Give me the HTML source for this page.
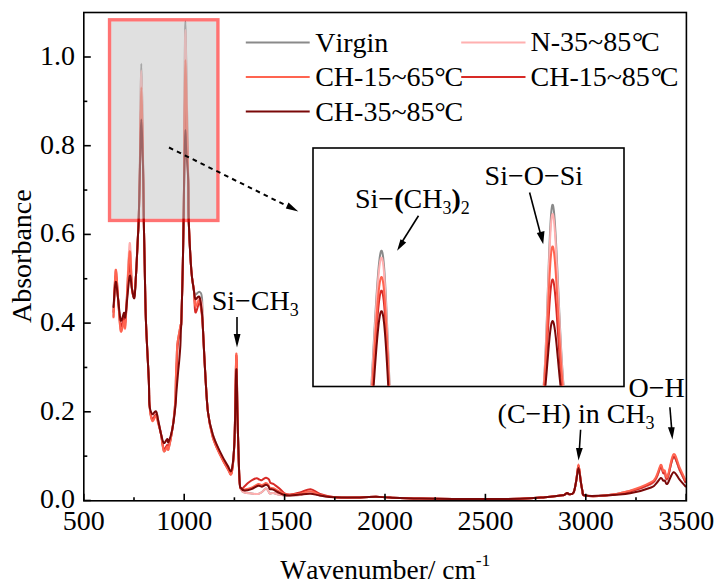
<!DOCTYPE html>
<html><head><meta charset="utf-8"><style>
html,body{margin:0;padding:0;background:#fff;}
svg{display:block;}
text{font-family:"Liberation Serif",serif;font-size:28px;fill:#000;font-kerning:none;}
</style></head><body>
<svg width="721" height="588" viewBox="0 0 721 588">
<rect width="721" height="588" fill="#fff"/>
<g fill="none" stroke-width="2" stroke-linejoin="round" stroke-linecap="round">
<path d="M113.50,316.00 C113.87,308.67 114.92,274.67 115.70,272.00 C116.48,269.33 117.37,290.50 118.20,300.00 C119.03,309.50 119.73,325.83 120.70,329.00 C121.67,332.17 123.20,320.17 124.00,319.00 C124.80,317.83 124.57,333.50 125.50,322.00 C126.43,310.50 128.52,255.50 129.60,250.00 C130.68,244.50 131.20,281.33 132.00,289.00 C132.80,296.67 133.73,298.33 134.40,296.00 C135.07,293.67 135.60,281.00 136.00,275.00 C136.40,269.00 136.47,266.67 136.80,260.00 C137.13,253.33 137.68,241.67 138.00,235.00 C138.32,228.33 138.42,229.17 138.70,220.00 C138.98,210.83 139.38,200.00 139.70,180.00 C140.02,160.00 140.33,119.37 140.60,100.00 C140.87,80.63 141.03,63.80 141.30,63.80 C141.57,63.80 141.87,80.63 142.20,100.00 C142.53,119.37 143.03,160.00 143.30,180.00 C143.57,200.00 143.58,206.67 143.80,220.00 C144.02,233.33 144.25,243.33 144.60,260.00 C144.95,276.67 145.20,300.00 145.90,320.00 C146.60,340.00 148.20,365.83 148.80,380.00 C149.40,394.17 148.93,398.33 149.50,405.00 C150.07,411.67 151.12,418.92 152.20,420.00 C153.28,421.08 154.98,411.33 156.00,411.50 C157.02,411.67 157.47,417.25 158.30,421.00 C159.13,424.75 160.08,429.00 161.00,434.00 C161.92,439.00 162.77,449.00 163.80,451.00 C164.83,453.00 166.42,446.33 167.20,446.00 C167.98,445.67 167.60,452.07 168.50,449.00 C169.40,445.93 171.52,434.93 172.60,427.60 C173.68,420.27 174.50,411.27 175.00,405.00 C175.50,398.73 175.42,395.67 175.60,390.00 C175.78,384.33 175.93,375.83 176.10,371.00 C176.27,366.17 176.40,365.33 176.60,361.00 C176.80,356.67 176.87,349.67 177.30,345.00 C177.73,340.33 178.65,336.33 179.20,333.00 C179.75,329.67 180.23,327.17 180.60,325.00 C180.97,322.83 181.05,329.17 181.40,320.00 C181.75,310.83 182.33,286.67 182.70,270.00 C183.07,253.33 183.37,235.00 183.60,220.00 C183.83,205.00 183.90,206.67 184.10,180.00 C184.30,153.33 184.58,86.42 184.80,60.00 C185.02,33.58 185.17,21.50 185.40,21.50 C185.63,21.50 185.73,33.58 186.20,60.00 C186.67,86.42 187.78,153.33 188.20,180.00 C188.62,206.67 188.18,205.00 188.70,220.00 C189.22,235.00 190.43,258.27 191.30,270.00 C192.17,281.73 193.22,286.32 193.90,290.40 C194.58,294.48 194.47,294.25 195.40,294.50 C196.33,294.75 198.40,291.32 199.50,291.90 C200.60,292.48 201.42,291.65 202.00,298.00 C202.58,304.35 202.45,317.27 203.00,330.00 C203.55,342.73 204.47,360.65 205.30,374.40 C206.13,388.15 206.77,402.52 208.00,412.50 C209.23,422.48 210.78,427.72 212.70,434.30 C214.62,440.88 217.02,446.55 219.50,452.00 C221.98,457.45 225.57,463.83 227.60,467.00 C229.63,470.17 230.55,475.50 231.70,471.00 C232.85,466.50 233.73,458.50 234.50,440.00 C235.27,421.50 235.78,363.33 236.30,360.00 C236.82,356.67 237.07,400.00 237.60,420.00 C238.13,440.00 238.85,468.33 239.50,480.00 C240.15,491.67 240.65,487.92 241.50,490.00 C242.35,492.08 242.95,491.92 244.60,492.50 C246.25,493.08 249.13,493.25 251.40,493.50 C253.67,493.75 256.43,494.25 258.20,494.00 C259.97,493.75 260.72,492.90 262.00,492.00 C263.28,491.10 264.85,488.77 265.90,488.60 C266.95,488.43 267.65,490.18 268.30,491.00 C268.95,491.82 268.98,493.17 269.80,493.50 C270.62,493.83 271.75,492.83 273.20,493.00 C274.65,493.17 276.63,494.10 278.50,494.50 C280.37,494.90 282.48,495.23 284.40,495.40 C286.32,495.57 287.40,495.57 290.00,495.50 C292.60,495.43 296.57,495.50 300.00,495.00 C303.43,494.50 307.27,492.42 310.60,492.50 C313.93,492.58 315.93,494.70 320.00,495.50 C324.07,496.30 328.33,496.97 335.00,497.30 C341.67,497.63 353.17,497.58 360.00,497.50 C366.83,497.42 371.00,496.78 376.00,496.80 C381.00,496.82 382.67,497.32 390.00,497.60 C397.33,497.88 406.67,498.27 420.00,498.50 C433.33,498.73 453.33,498.95 470.00,499.00 C486.67,499.05 507.50,499.10 520.00,498.80 C532.50,498.50 538.33,497.75 545.00,497.20 C551.67,496.65 556.87,495.85 560.00,495.50 C563.13,495.15 562.63,495.53 563.80,495.10 C564.97,494.67 566.10,493.05 567.00,492.90 C567.90,492.75 568.10,494.27 569.20,494.20 C570.30,494.13 572.43,494.70 573.60,492.50 C574.77,490.30 575.38,485.50 576.20,481.00 C577.02,476.50 577.75,465.50 578.50,465.50 C579.25,465.50 580.05,476.80 580.70,481.00 C581.35,485.20 581.67,488.27 582.40,490.70 C583.13,493.13 581.33,494.78 585.10,495.60 C588.87,496.42 597.52,496.37 605.00,495.60 C612.48,494.83 622.32,492.93 630.00,491.00 C637.68,489.07 646.70,486.17 651.10,484.00 C655.50,481.83 654.78,480.83 656.40,478.00 C658.02,475.17 659.67,467.83 660.80,467.00 C661.93,466.17 662.53,471.87 663.20,473.00 C663.87,474.13 664.10,472.80 664.80,473.80 C665.50,474.80 665.95,481.80 667.40,479.00 C668.85,476.20 671.47,458.50 673.50,457.00 C675.53,455.50 677.62,465.83 679.60,470.00 C681.58,474.17 684.43,480.00 685.40,482.00" stroke="#8a8a8a"/>
<path d="M113.50,317.60 C113.87,309.65 114.92,272.83 115.70,269.90 C116.48,266.97 117.37,289.82 118.20,300.00 C119.03,310.18 119.73,327.50 120.70,331.00 C121.67,334.50 123.20,322.10 124.00,321.00 C124.80,319.90 124.57,337.32 125.50,324.40 C126.43,311.48 128.52,249.40 129.60,243.50 C130.68,237.60 131.20,280.58 132.00,289.00 C132.80,297.42 133.73,296.33 134.40,294.00 C135.07,291.67 135.60,280.67 136.00,275.00 C136.40,269.33 136.47,266.67 136.80,260.00 C137.13,253.33 137.68,241.67 138.00,235.00 C138.32,228.33 138.42,229.17 138.70,220.00 C138.98,210.83 139.38,200.00 139.70,180.00 C140.02,160.00 140.33,118.23 140.60,100.00 C140.87,81.77 141.03,70.60 141.30,70.60 C141.57,70.60 141.87,81.77 142.20,100.00 C142.53,118.23 143.03,160.00 143.30,180.00 C143.57,200.00 143.58,206.67 143.80,220.00 C144.02,233.33 144.25,243.33 144.60,260.00 C144.95,276.67 145.20,300.00 145.90,320.00 C146.60,340.00 148.20,365.83 148.80,380.00 C149.40,394.17 148.93,398.33 149.50,405.00 C150.07,411.67 151.12,418.92 152.20,420.00 C153.28,421.08 154.98,411.33 156.00,411.50 C157.02,411.67 157.47,417.25 158.30,421.00 C159.13,424.75 160.08,429.00 161.00,434.00 C161.92,439.00 162.77,449.00 163.80,451.00 C164.83,453.00 166.42,446.33 167.20,446.00 C167.98,445.67 167.60,452.07 168.50,449.00 C169.40,445.93 171.52,434.93 172.60,427.60 C173.68,420.27 174.50,411.27 175.00,405.00 C175.50,398.73 175.42,395.67 175.60,390.00 C175.78,384.33 175.93,375.83 176.10,371.00 C176.27,366.17 176.40,365.33 176.60,361.00 C176.80,356.67 176.87,349.67 177.30,345.00 C177.73,340.33 178.65,336.33 179.20,333.00 C179.75,329.67 180.23,327.17 180.60,325.00 C180.97,322.83 181.05,329.17 181.40,320.00 C181.75,310.83 182.33,286.67 182.70,270.00 C183.07,253.33 183.37,235.00 183.60,220.00 C183.83,205.00 183.90,205.83 184.10,180.00 C184.30,154.17 184.58,90.00 184.80,65.00 C185.02,40.00 185.17,30.00 185.40,30.00 C185.63,30.00 185.73,40.00 186.20,65.00 C186.67,90.00 187.78,154.17 188.20,180.00 C188.62,205.83 188.18,205.00 188.70,220.00 C189.22,235.00 190.43,258.27 191.30,270.00 C192.17,281.73 193.22,284.90 193.90,290.40 C194.58,295.90 194.47,301.73 195.40,303.00 C196.33,304.27 198.40,297.67 199.50,298.00 C200.60,298.33 201.42,299.67 202.00,305.00 C202.58,310.33 202.45,318.43 203.00,330.00 C203.55,341.57 204.47,360.65 205.30,374.40 C206.13,388.15 206.77,402.52 208.00,412.50 C209.23,422.48 210.78,427.72 212.70,434.30 C214.62,440.88 217.02,446.55 219.50,452.00 C221.98,457.45 225.57,463.83 227.60,467.00 C229.63,470.17 230.55,475.50 231.70,471.00 C232.85,466.50 233.73,459.17 234.50,440.00 C235.27,420.83 235.78,359.33 236.30,356.00 C236.82,352.67 237.07,399.33 237.60,420.00 C238.13,440.67 238.85,468.33 239.50,480.00 C240.15,491.67 240.65,487.92 241.50,490.00 C242.35,492.08 242.95,491.92 244.60,492.50 C246.25,493.08 249.13,493.25 251.40,493.50 C253.67,493.75 256.43,494.25 258.20,494.00 C259.97,493.75 260.72,492.90 262.00,492.00 C263.28,491.10 264.85,488.77 265.90,488.60 C266.95,488.43 267.65,490.18 268.30,491.00 C268.95,491.82 268.98,493.17 269.80,493.50 C270.62,493.83 271.75,492.83 273.20,493.00 C274.65,493.17 276.63,494.10 278.50,494.50 C280.37,494.90 282.48,495.23 284.40,495.40 C286.32,495.57 287.40,495.57 290.00,495.50 C292.60,495.43 296.57,495.50 300.00,495.00 C303.43,494.50 307.27,492.42 310.60,492.50 C313.93,492.58 315.93,494.70 320.00,495.50 C324.07,496.30 328.33,496.97 335.00,497.30 C341.67,497.63 353.17,497.58 360.00,497.50 C366.83,497.42 371.00,496.78 376.00,496.80 C381.00,496.82 382.67,497.32 390.00,497.60 C397.33,497.88 406.67,498.27 420.00,498.50 C433.33,498.73 453.33,498.95 470.00,499.00 C486.67,499.05 507.50,499.10 520.00,498.80 C532.50,498.50 538.33,497.75 545.00,497.20 C551.67,496.65 556.87,495.85 560.00,495.50 C563.13,495.15 562.63,495.53 563.80,495.10 C564.97,494.67 566.10,493.05 567.00,492.90 C567.90,492.75 568.10,494.27 569.20,494.20 C570.30,494.13 572.43,494.70 573.60,492.50 C574.77,490.30 575.38,485.67 576.20,481.00 C577.02,476.33 577.75,464.50 578.50,464.50 C579.25,464.50 580.05,476.63 580.70,481.00 C581.35,485.37 581.67,488.27 582.40,490.70 C583.13,493.13 581.33,494.78 585.10,495.60 C588.87,496.42 597.52,496.37 605.00,495.60 C612.48,494.83 622.32,492.93 630.00,491.00 C637.68,489.07 646.70,486.17 651.10,484.00 C655.50,481.83 654.78,481.00 656.40,478.00 C658.02,475.00 659.67,466.83 660.80,466.00 C661.93,465.17 662.53,471.70 663.20,473.00 C663.87,474.30 664.10,472.80 664.80,473.80 C665.50,474.80 665.95,482.13 667.40,479.00 C668.85,475.87 671.47,456.50 673.50,455.00 C675.53,453.50 677.62,465.67 679.60,470.00 C681.58,474.33 684.43,479.17 685.40,481.00" stroke="#ffb0b0"/>
<path d="M113.50,312.00 C113.87,306.00 114.92,278.00 115.70,276.00 C116.48,274.00 117.37,291.67 118.20,300.00 C119.03,308.33 119.73,323.17 120.70,326.00 C121.67,328.83 123.20,318.00 124.00,317.00 C124.80,316.00 124.57,328.83 125.50,320.00 C126.43,311.17 128.52,269.17 129.60,264.00 C130.68,258.83 131.20,283.50 132.00,289.00 C132.80,294.50 133.73,299.33 134.40,297.00 C135.07,294.67 135.60,281.17 136.00,275.00 C136.40,268.83 136.47,266.67 136.80,260.00 C137.13,253.33 137.68,241.67 138.00,235.00 C138.32,228.33 138.42,229.17 138.70,220.00 C138.98,210.83 139.38,195.83 139.70,180.00 C140.02,164.17 140.33,138.33 140.60,125.00 C140.87,111.67 141.03,100.00 141.30,100.00 C141.57,100.00 141.87,111.67 142.20,125.00 C142.53,138.33 143.03,164.17 143.30,180.00 C143.57,195.83 143.58,206.67 143.80,220.00 C144.02,233.33 144.25,243.33 144.60,260.00 C144.95,276.67 145.20,300.00 145.90,320.00 C146.60,340.00 148.20,365.83 148.80,380.00 C149.40,394.17 148.93,398.50 149.50,405.00 C150.07,411.50 151.12,417.33 152.20,419.00 C153.28,420.67 154.98,414.33 156.00,415.00 C157.02,415.67 157.47,419.83 158.30,423.00 C159.13,426.17 160.08,429.67 161.00,434.00 C161.92,438.33 162.77,447.17 163.80,449.00 C164.83,450.83 166.42,445.33 167.20,445.00 C167.98,444.67 167.60,449.90 168.50,447.00 C169.40,444.10 171.45,434.60 172.60,427.60 C173.75,420.60 174.83,411.27 175.40,405.00 C175.97,398.73 175.82,395.67 176.00,390.00 C176.18,384.33 176.33,375.83 176.50,371.00 C176.67,366.17 176.80,365.33 177.00,361.00 C177.20,356.67 177.27,349.67 177.70,345.00 C178.13,340.33 179.05,336.33 179.60,333.00 C180.15,329.67 180.70,327.17 181.00,325.00 C181.30,322.83 181.12,329.17 181.40,320.00 C181.68,310.83 182.33,286.67 182.70,270.00 C183.07,253.33 183.37,235.00 183.60,220.00 C183.83,205.00 183.90,198.33 184.10,180.00 C184.30,161.67 184.58,125.00 184.80,110.00 C185.02,95.00 185.17,90.00 185.40,90.00 C185.63,90.00 185.73,95.00 186.20,110.00 C186.67,125.00 187.78,161.67 188.20,180.00 C188.62,198.33 188.18,205.00 188.70,220.00 C189.22,235.00 190.43,258.27 191.30,270.00 C192.17,281.73 193.22,283.35 193.90,290.40 C194.58,297.45 194.47,310.25 195.40,312.30 C196.33,314.35 198.40,302.08 199.50,302.70 C200.60,303.32 201.42,311.45 202.00,316.00 C202.58,320.55 202.45,320.27 203.00,330.00 C203.55,339.73 204.47,360.65 205.30,374.40 C206.13,388.15 206.77,402.07 208.00,412.50 C209.23,422.93 210.78,430.15 212.70,437.00 C214.62,443.85 217.02,448.33 219.50,453.60 C221.98,458.87 225.57,465.42 227.60,468.60 C229.63,471.78 230.55,477.47 231.70,472.70 C232.85,467.93 233.73,459.53 234.50,440.00 C235.27,420.47 235.78,358.83 236.30,355.50 C236.82,352.17 237.07,399.25 237.60,420.00 C238.13,440.75 238.80,468.60 239.50,480.00 C240.20,491.40 240.95,487.35 241.80,488.40 C242.65,489.45 243.52,487.23 244.60,486.30 C245.68,485.37 246.98,483.88 248.30,482.80 C249.62,481.72 251.10,480.55 252.50,479.80 C253.90,479.05 255.53,478.33 256.70,478.30 C257.87,478.27 258.67,479.27 259.50,479.60 C260.33,479.93 260.95,480.47 261.70,480.30 C262.45,480.13 263.27,479.02 264.00,478.60 C264.73,478.18 265.28,477.67 266.10,477.80 C266.92,477.93 268.20,478.57 268.90,479.40 C269.60,480.23 269.57,482.05 270.30,482.80 C271.03,483.55 272.42,483.43 273.30,483.90 C274.18,484.37 274.48,484.77 275.60,485.60 C276.72,486.43 278.53,487.62 280.00,488.90 C281.47,490.18 282.73,492.37 284.40,493.30 C286.07,494.23 287.40,494.63 290.00,494.50 C292.60,494.37 296.57,493.38 300.00,492.50 C303.43,491.62 307.27,488.95 310.60,489.20 C313.93,489.45 315.93,492.65 320.00,494.00 C324.07,495.35 328.33,496.72 335.00,497.30 C341.67,497.88 353.17,497.58 360.00,497.50 C366.83,497.42 371.00,496.78 376.00,496.80 C381.00,496.82 382.67,497.32 390.00,497.60 C397.33,497.88 406.67,498.27 420.00,498.50 C433.33,498.73 453.33,498.95 470.00,499.00 C486.67,499.05 507.50,499.10 520.00,498.80 C532.50,498.50 538.33,497.75 545.00,497.20 C551.67,496.65 556.87,495.85 560.00,495.50 C563.13,495.15 562.63,495.53 563.80,495.10 C564.97,494.67 566.10,493.05 567.00,492.90 C567.90,492.75 568.10,494.27 569.20,494.20 C570.30,494.13 572.43,494.70 573.60,492.50 C574.77,490.30 575.38,485.50 576.20,481.00 C577.02,476.50 577.75,465.50 578.50,465.50 C579.25,465.50 580.05,476.80 580.70,481.00 C581.35,485.20 581.67,488.27 582.40,490.70 C583.13,493.13 581.33,494.78 585.10,495.60 C588.87,496.42 597.52,496.28 605.00,495.60 C612.48,494.92 622.32,493.52 630.00,491.50 C637.68,489.48 646.70,485.83 651.10,483.50 C655.50,481.17 654.78,480.25 656.40,477.50 C658.02,474.75 659.67,467.75 660.80,467.00 C661.93,466.25 662.53,472.08 663.20,473.00 C663.87,473.92 664.10,471.58 664.80,472.50 C665.50,473.42 665.95,481.08 667.40,478.50 C668.85,475.92 671.47,458.50 673.50,457.00 C675.53,455.50 677.62,465.33 679.60,469.50 C681.58,473.67 684.43,479.92 685.40,482.00" stroke="#d82a26"/>
<path d="M113.50,317.00 C113.87,309.17 114.92,272.83 115.70,270.00 C116.48,267.17 117.37,289.83 118.20,300.00 C119.03,310.17 119.73,327.50 120.70,331.00 C121.67,334.50 123.20,322.17 124.00,321.00 C124.80,319.83 124.57,335.50 125.50,324.00 C126.43,312.50 128.52,257.83 129.60,252.00 C130.68,246.17 131.20,281.83 132.00,289.00 C132.80,296.17 133.73,297.33 134.40,295.00 C135.07,292.67 135.60,280.83 136.00,275.00 C136.40,269.17 136.47,266.67 136.80,260.00 C137.13,253.33 137.68,241.67 138.00,235.00 C138.32,228.33 138.42,229.17 138.70,220.00 C138.98,210.83 139.38,196.67 139.70,180.00 C140.02,163.33 140.33,135.40 140.60,120.00 C140.87,104.60 141.03,87.60 141.30,87.60 C141.57,87.60 141.87,104.60 142.20,120.00 C142.53,135.40 143.03,163.33 143.30,180.00 C143.57,196.67 143.58,206.67 143.80,220.00 C144.02,233.33 144.25,243.33 144.60,260.00 C144.95,276.67 145.20,300.00 145.90,320.00 C146.60,340.00 148.20,365.83 148.80,380.00 C149.40,394.17 148.93,398.17 149.50,405.00 C150.07,411.83 151.12,419.17 152.20,421.00 C153.28,422.83 154.98,415.50 156.00,416.00 C157.02,416.50 157.47,421.00 158.30,424.00 C159.13,427.00 160.08,429.50 161.00,434.00 C161.92,438.50 162.77,448.90 163.80,451.00 C164.83,453.10 166.42,446.93 167.20,446.60 C167.98,446.27 167.60,452.17 168.50,449.00 C169.40,445.83 171.52,434.93 172.60,427.60 C173.68,420.27 174.50,411.27 175.00,405.00 C175.50,398.73 175.42,395.67 175.60,390.00 C175.78,384.33 175.93,375.83 176.10,371.00 C176.27,366.17 176.40,365.33 176.60,361.00 C176.80,356.67 176.87,349.67 177.30,345.00 C177.73,340.33 178.65,336.33 179.20,333.00 C179.75,329.67 180.23,327.17 180.60,325.00 C180.97,322.83 181.05,329.17 181.40,320.00 C181.75,310.83 182.33,286.67 182.70,270.00 C183.07,253.33 183.37,235.00 183.60,220.00 C183.83,205.00 183.90,201.67 184.10,180.00 C184.30,158.33 184.58,110.00 184.80,90.00 C185.02,70.00 185.17,60.00 185.40,60.00 C185.63,60.00 185.73,70.00 186.20,90.00 C186.67,110.00 187.78,158.33 188.20,180.00 C188.62,201.67 188.18,205.00 188.70,220.00 C189.22,235.00 190.43,258.27 191.30,270.00 C192.17,281.73 193.22,284.40 193.90,290.40 C194.58,296.40 194.47,304.32 195.40,306.00 C196.33,307.68 198.40,299.17 199.50,300.50 C200.60,301.83 201.42,309.08 202.00,314.00 C202.58,318.92 202.45,319.93 203.00,330.00 C203.55,340.07 204.47,360.65 205.30,374.40 C206.13,388.15 206.77,402.07 208.00,412.50 C209.23,422.93 210.78,430.15 212.70,437.00 C214.62,443.85 217.02,448.33 219.50,453.60 C221.98,458.87 225.57,465.42 227.60,468.60 C229.63,471.78 230.55,477.47 231.70,472.70 C232.85,467.93 233.73,459.85 234.50,440.00 C235.27,420.15 235.78,356.93 236.30,353.60 C236.82,350.27 237.07,398.93 237.60,420.00 C238.13,441.07 238.85,468.50 239.50,480.00 C240.15,491.50 240.65,487.43 241.50,489.00 C242.35,490.57 242.95,489.60 244.60,489.40 C246.25,489.20 249.13,488.70 251.40,487.80 C253.67,486.90 256.43,484.47 258.20,484.00 C259.97,483.53 260.72,485.15 262.00,485.00 C263.28,484.85 264.85,483.17 265.90,483.10 C266.95,483.03 267.65,483.85 268.30,484.60 C268.95,485.35 268.98,487.00 269.80,487.60 C270.62,488.20 271.75,487.63 273.20,488.20 C274.65,488.77 276.63,490.03 278.50,491.00 C280.37,491.97 282.48,493.33 284.40,494.00 C286.32,494.67 287.40,495.03 290.00,495.00 C292.60,494.97 296.57,494.43 300.00,493.80 C303.43,493.17 307.27,491.00 310.60,491.20 C313.93,491.40 315.93,493.98 320.00,495.00 C324.07,496.02 328.33,496.88 335.00,497.30 C341.67,497.72 353.17,497.58 360.00,497.50 C366.83,497.42 371.00,496.78 376.00,496.80 C381.00,496.82 382.67,497.32 390.00,497.60 C397.33,497.88 406.67,498.27 420.00,498.50 C433.33,498.73 453.33,498.95 470.00,499.00 C486.67,499.05 507.50,499.10 520.00,498.80 C532.50,498.50 538.33,497.75 545.00,497.20 C551.67,496.65 556.87,495.85 560.00,495.50 C563.13,495.15 562.63,495.53 563.80,495.10 C564.97,494.67 566.10,493.05 567.00,492.90 C567.90,492.75 568.10,494.27 569.20,494.20 C570.30,494.13 572.43,494.70 573.60,492.50 C574.77,490.30 575.38,485.67 576.20,481.00 C577.02,476.33 577.75,464.50 578.50,464.50 C579.25,464.50 580.05,476.63 580.70,481.00 C581.35,485.37 581.67,488.27 582.40,490.70 C583.13,493.13 581.33,494.78 585.10,495.60 C588.87,496.42 597.52,496.43 605.00,495.60 C612.48,494.77 622.32,492.83 630.00,490.60 C637.68,488.37 646.70,484.65 651.10,482.20 C655.50,479.75 654.78,478.80 656.40,475.90 C658.02,473.00 659.67,465.60 660.80,464.80 C661.93,464.00 662.53,470.13 663.20,471.10 C663.87,472.07 664.10,469.63 664.80,470.60 C665.50,471.57 665.95,479.63 667.40,476.90 C668.85,474.17 671.47,455.78 673.50,454.20 C675.53,452.62 677.62,463.10 679.60,467.40 C681.58,471.70 684.43,477.90 685.40,480.00" stroke="#ff6450"/>
<path d="M113.50,307.00 C113.87,302.80 114.92,282.97 115.70,281.80 C116.48,280.63 117.37,293.55 118.20,300.00 C119.03,306.45 119.73,318.38 120.70,320.50 C121.67,322.62 123.20,313.50 124.00,312.70 C124.80,311.90 124.57,321.73 125.50,315.70 C126.43,309.67 128.52,280.95 129.60,276.50 C130.68,272.05 131.20,285.43 132.00,289.00 C132.80,292.57 133.73,300.23 134.40,297.90 C135.07,295.57 135.60,281.32 136.00,275.00 C136.40,268.68 136.47,266.67 136.80,260.00 C137.13,253.33 137.68,241.67 138.00,235.00 C138.32,228.33 138.42,229.17 138.70,220.00 C138.98,210.83 139.38,193.33 139.70,180.00 C140.02,166.67 140.33,150.08 140.60,140.00 C140.87,129.92 141.03,119.50 141.30,119.50 C141.57,119.50 141.87,129.92 142.20,140.00 C142.53,150.08 143.03,166.67 143.30,180.00 C143.57,193.33 143.58,206.67 143.80,220.00 C144.02,233.33 144.25,243.33 144.60,260.00 C144.95,276.67 145.20,300.00 145.90,320.00 C146.60,340.00 148.20,365.83 148.80,380.00 C149.40,394.17 148.93,399.33 149.50,405.00 C150.07,410.67 151.12,412.92 152.20,414.00 C153.28,415.08 154.98,410.33 156.00,411.50 C157.02,412.67 157.47,417.25 158.30,421.00 C159.13,424.75 160.08,430.33 161.00,434.00 C161.92,437.67 162.77,442.17 163.80,443.00 C164.83,443.83 166.42,439.17 167.20,439.00 C167.98,438.83 167.60,443.90 168.50,442.00 C169.40,440.10 171.47,433.43 172.60,427.60 C173.73,421.77 174.63,413.27 175.30,407.00 C175.97,400.73 176.12,396.00 176.60,390.00 C177.08,384.00 177.77,375.83 178.20,371.00 C178.63,366.17 178.83,365.33 179.20,361.00 C179.57,356.67 180.12,350.17 180.40,345.00 C180.68,339.83 180.73,334.17 180.90,330.00 C181.07,325.83 181.10,330.00 181.40,320.00 C181.70,310.00 182.33,286.67 182.70,270.00 C183.07,253.33 183.37,235.00 183.60,220.00 C183.83,205.00 183.90,191.67 184.10,180.00 C184.30,168.33 184.58,158.33 184.80,150.00 C185.02,141.67 185.17,130.00 185.40,130.00 C185.63,130.00 185.73,141.67 186.20,150.00 C186.67,158.33 187.78,168.33 188.20,180.00 C188.62,191.67 188.18,205.00 188.70,220.00 C189.22,235.00 190.43,258.27 191.30,270.00 C192.17,281.73 193.22,285.57 193.90,290.40 C194.58,295.23 194.47,297.90 195.40,299.00 C196.33,300.10 198.40,294.67 199.50,297.00 C200.60,299.33 201.42,307.50 202.00,313.00 C202.58,318.50 202.45,319.77 203.00,330.00 C203.55,340.23 204.47,360.65 205.30,374.40 C206.13,388.15 206.77,402.52 208.00,412.50 C209.23,422.48 210.78,427.95 212.70,434.30 C214.62,440.65 217.02,445.38 219.50,450.60 C221.98,455.82 225.57,462.42 227.60,465.60 C229.63,468.78 230.55,473.97 231.70,469.70 C232.85,465.43 233.73,456.72 234.50,440.00 C235.27,423.28 235.78,372.73 236.30,369.40 C236.82,366.07 237.07,401.57 237.60,420.00 C238.13,438.43 238.85,468.58 239.50,480.00 C240.15,491.42 240.65,486.73 241.50,488.50 C242.35,490.27 242.95,490.50 244.60,490.60 C246.25,490.70 249.13,489.92 251.40,489.10 C253.67,488.28 256.43,486.10 258.20,485.70 C259.97,485.30 260.72,486.85 262.00,486.70 C263.28,486.55 264.85,484.88 265.90,484.80 C266.95,484.72 267.65,485.48 268.30,486.20 C268.95,486.92 268.98,488.53 269.80,489.10 C270.62,489.67 271.75,489.03 273.20,489.60 C274.65,490.17 276.63,491.60 278.50,492.50 C280.37,493.40 282.48,494.50 284.40,495.00 C286.32,495.50 287.40,495.58 290.00,495.50 C292.60,495.42 296.57,494.78 300.00,494.50 C303.43,494.22 307.27,493.63 310.60,493.80 C313.93,493.97 315.93,494.92 320.00,495.50 C324.07,496.08 328.33,496.97 335.00,497.30 C341.67,497.63 353.17,497.58 360.00,497.50 C366.83,497.42 371.00,496.78 376.00,496.80 C381.00,496.82 382.67,497.32 390.00,497.60 C397.33,497.88 406.67,498.27 420.00,498.50 C433.33,498.73 453.33,498.95 470.00,499.00 C486.67,499.05 507.50,499.10 520.00,498.80 C532.50,498.50 538.33,497.75 545.00,497.20 C551.67,496.65 556.87,495.85 560.00,495.50 C563.13,495.15 562.63,495.53 563.80,495.10 C564.97,494.67 566.10,493.05 567.00,492.90 C567.90,492.75 568.10,494.27 569.20,494.20 C570.30,494.13 572.43,494.70 573.60,492.50 C574.77,490.30 575.38,485.07 576.20,481.00 C577.02,476.93 577.75,468.10 578.50,468.10 C579.25,468.10 580.05,477.23 580.70,481.00 C581.35,484.77 581.67,488.27 582.40,490.70 C583.13,493.13 581.33,494.78 585.10,495.60 C588.87,496.42 597.52,495.98 605.00,495.60 C612.48,495.22 622.32,494.65 630.00,493.30 C637.68,491.95 646.70,489.18 651.10,487.50 C655.50,485.82 654.78,484.78 656.40,483.20 C658.02,481.62 659.67,478.43 660.80,478.00 C661.93,477.57 662.53,480.17 663.20,480.60 C663.87,481.03 664.10,480.07 664.80,480.60 C665.50,481.13 665.95,485.20 667.40,483.80 C668.85,482.40 671.47,472.90 673.50,472.20 C675.53,471.50 677.62,477.23 679.60,479.60 C681.58,481.97 684.43,485.27 685.40,486.40" stroke="#7a0808"/>
</g>
<rect x="111.25" y="21.5" width="104.95" height="197.25" fill="rgba(193,193,193,0.5)"/>
<rect x="109.55" y="19.8" width="108.35" height="200.65" fill="none" stroke="rgba(255,0,0,0.55)" stroke-width="3.4"/>
<g stroke="#000" stroke-width="1.6">
<line x1="83.80" y1="500.8" x2="83.80" y2="493.80"/>
<line x1="134.00" y1="500.8" x2="134.00" y2="497.30"/>
<line x1="184.20" y1="500.8" x2="184.20" y2="493.80"/>
<line x1="234.40" y1="500.8" x2="234.40" y2="497.30"/>
<line x1="284.60" y1="500.8" x2="284.60" y2="493.80"/>
<line x1="334.80" y1="500.8" x2="334.80" y2="497.30"/>
<line x1="385.00" y1="500.8" x2="385.00" y2="493.80"/>
<line x1="435.20" y1="500.8" x2="435.20" y2="497.30"/>
<line x1="485.40" y1="500.8" x2="485.40" y2="493.80"/>
<line x1="535.60" y1="500.8" x2="535.60" y2="497.30"/>
<line x1="585.80" y1="500.8" x2="585.80" y2="493.80"/>
<line x1="636.00" y1="500.8" x2="636.00" y2="497.30"/>
<line x1="686.20" y1="500.8" x2="686.20" y2="493.80"/>
<line x1="83.8" y1="500.50" x2="90.80" y2="500.50"/>
<line x1="83.8" y1="456.15" x2="87.30" y2="456.15"/>
<line x1="83.8" y1="411.80" x2="90.80" y2="411.80"/>
<line x1="83.8" y1="367.45" x2="87.30" y2="367.45"/>
<line x1="83.8" y1="323.10" x2="90.80" y2="323.10"/>
<line x1="83.8" y1="278.75" x2="87.30" y2="278.75"/>
<line x1="83.8" y1="234.40" x2="90.80" y2="234.40"/>
<line x1="83.8" y1="190.05" x2="87.30" y2="190.05"/>
<line x1="83.8" y1="145.70" x2="90.80" y2="145.70"/>
<line x1="83.8" y1="101.35" x2="87.30" y2="101.35"/>
<line x1="83.8" y1="57.00" x2="90.80" y2="57.00"/>
</g>
<rect x="83.8" y="12.5" width="602.6" height="488.3" fill="none" stroke="#000" stroke-width="1.6"/>
<text x="83.80" y="530" text-anchor="middle">500</text>
<text x="184.20" y="530" text-anchor="middle">1000</text>
<text x="284.60" y="530" text-anchor="middle">1500</text>
<text x="385.00" y="530" text-anchor="middle">2000</text>
<text x="485.40" y="530" text-anchor="middle">2500</text>
<text x="585.80" y="530" text-anchor="middle">3000</text>
<text x="686.20" y="530" text-anchor="middle">3500</text>
<text x="75" y="508.30" text-anchor="end">0.0</text>
<text x="75" y="419.60" text-anchor="end">0.2</text>
<text x="75" y="330.90" text-anchor="end">0.4</text>
<text x="75" y="242.20" text-anchor="end">0.6</text>
<text x="75" y="153.50" text-anchor="end">0.8</text>
<text x="75" y="64.80" text-anchor="end">1.0</text>
<text transform="translate(31,323) rotate(-90)">Absorbance</text>
<text x="280.3" y="578.5" style="font-size:27.4px">Wavenumber/ cm<tspan style="font-size:17.5px" dy="-12.7">-1</tspan></text>
<!-- legend -->
<g stroke-width="2">
<line x1="245.8" y1="42.4" x2="309.7" y2="42.4" stroke="#8a8a8a"/>
<line x1="245.8" y1="77" x2="309.7" y2="77" stroke="#ff6450"/>
<line x1="245.8" y1="111.6" x2="309.7" y2="111.6" stroke="#7a0808"/>
<line x1="461.2" y1="42.4" x2="525.5" y2="42.4" stroke="#ffb0b0"/>
<line x1="461.2" y1="77" x2="525.5" y2="77" stroke="#d82a26"/>
</g>
<text x="315.2" y="51.5">Virgin</text>
<text x="315.2" y="86.1">CH-15~65°<tspan dx="-1.2">C</tspan></text>
<text x="315.2" y="121">CH-35~85°<tspan dx="-1.2">C</tspan></text>
<text x="530.5" y="51.2">N-35~85<tspan dx="0.8">°</tspan><tspan dx="-2.2">C</tspan></text>
<text x="530.5" y="85.8">CH-15~85<tspan dx="0.8">°</tspan><tspan dx="-2.2">C</tspan></text>
<!-- dashed arrow -->
<line x1="169" y1="147.5" x2="287.5" y2="206.2" stroke="#000" stroke-width="2" stroke-dasharray="4.6 4.2"/>
<path d="M298.3,211.6 L285.8,208.6 L288.5,202.6 Z" fill="#000"/>
<!-- inset -->
<rect x="313" y="148" width="311" height="238.5" fill="#fff" stroke="#000" stroke-width="1.6"/>
<clipPath id="ic"><rect x="313.8" y="148.8" width="309.4" height="237"/></clipPath>
<g fill="none" stroke-width="2" clip-path="url(#ic)">
<path d="M371.26,388.00 L371.79,378.76 L372.30,369.51 L372.81,360.32 L373.31,351.25 L373.81,342.36 L374.29,333.72 L374.76,325.37 L375.21,317.38 L375.66,309.78 L376.10,302.62 L376.52,295.91 L376.93,289.69 L377.32,283.97 L377.70,278.77 L378.07,274.07 L378.42,269.88 L378.76,266.20 L379.08,262.99 L379.38,260.24 L379.67,257.92 L379.95,256.01 L380.20,254.47 L380.44,253.27 L380.66,252.36 L380.87,251.70 L381.05,251.26 L381.21,250.99 L381.34,250.86 L381.44,250.81 L381.50,250.80 L381.56,250.81 L381.66,250.86 L381.79,250.99 L381.95,251.26 L382.12,251.70 L382.31,252.36 L382.52,253.27 L382.74,254.47 L382.98,256.01 L383.22,257.92 L383.48,260.24 L383.74,262.99 L384.02,266.20 L384.30,269.88 L384.59,274.07 L384.89,278.77 L385.19,283.97 L385.50,289.69 L385.81,295.91 L386.14,302.62 L386.46,309.78 L386.80,317.38 L387.14,325.37 L387.49,333.72 L387.84,342.36 L388.20,351.25 L388.56,360.32 L388.94,369.51 L389.32,378.76 L389.71,388.00" stroke="#8a8a8a"/>
<path d="M371.48,388.00 L371.99,379.10 L372.50,370.21 L373.00,361.40 L373.49,352.72 L373.97,344.23 L374.44,335.99 L374.90,328.05 L375.35,320.46 L375.78,313.25 L376.21,306.46 L376.62,300.12 L377.02,294.24 L377.40,288.84 L377.78,283.92 L378.14,279.50 L378.48,275.55 L378.81,272.08 L379.12,269.06 L379.42,266.47 L379.71,264.30 L379.98,262.50 L380.23,261.05 L380.46,259.92 L380.68,259.06 L380.88,258.45 L381.06,258.03 L381.21,257.78 L381.34,257.65 L381.44,257.61 L381.50,257.60 L381.56,257.61 L381.66,257.65 L381.79,257.78 L381.94,258.03 L382.11,258.45 L382.30,259.06 L382.50,259.92 L382.72,261.05 L382.95,262.50 L383.19,264.30 L383.45,266.47 L383.71,269.06 L383.98,272.08 L384.25,275.55 L384.54,279.50 L384.83,283.92 L385.13,288.84 L385.44,294.24 L385.75,300.12 L386.07,306.46 L386.39,313.25 L386.72,320.46 L387.06,328.05 L387.40,335.99 L387.75,344.23 L388.10,352.72 L388.47,361.40 L388.83,370.21 L389.21,379.10 L389.59,388.00" stroke="#ffb0b0"/>
<path d="M372.64,388.00 L373.10,380.87 L373.55,373.84 L373.99,366.96 L374.42,360.26 L374.84,353.78 L375.26,347.54 L375.66,341.59 L376.06,335.95 L376.44,330.62 L376.81,325.65 L377.18,321.02 L377.53,316.76 L377.87,312.87 L378.19,309.35 L378.51,306.18 L378.81,303.37 L379.10,300.91 L379.38,298.77 L379.65,296.94 L379.90,295.41 L380.14,294.14 L380.36,293.12 L380.57,292.33 L380.76,291.73 L380.94,291.29 L381.10,291.00 L381.24,290.83 L381.36,290.74 L381.45,290.70 L381.50,290.70 L381.55,290.70 L381.64,290.74 L381.76,290.83 L381.89,291.00 L382.05,291.29 L382.22,291.73 L382.40,292.33 L382.60,293.12 L382.81,294.14 L383.03,295.41 L383.26,296.94 L383.50,298.77 L383.74,300.91 L384.00,303.37 L384.26,306.18 L384.53,309.35 L384.81,312.87 L385.09,316.76 L385.38,321.02 L385.67,325.65 L385.97,330.62 L386.27,335.95 L386.58,341.59 L386.90,347.54 L387.22,353.78 L387.55,360.26 L387.88,366.96 L388.22,373.84 L388.56,380.87 L388.91,388.00" stroke="#d82a26"/>
<path d="M372.13,388.00 L372.61,380.11 L373.09,372.29 L373.56,364.59 L374.01,357.05 L374.46,349.73 L374.90,342.66 L375.33,335.88 L375.75,329.43 L376.15,323.33 L376.55,317.61 L376.93,312.28 L377.30,307.36 L377.66,302.85 L378.01,298.76 L378.34,295.08 L378.67,291.81 L378.97,288.93 L379.27,286.44 L379.55,284.30 L379.81,282.51 L380.07,281.03 L380.30,279.84 L380.52,278.90 L380.73,278.20 L380.91,277.70 L381.08,277.36 L381.23,277.15 L381.35,277.04 L381.45,277.01 L381.50,277.00 L381.55,277.01 L381.65,277.04 L381.77,277.15 L381.91,277.36 L382.08,277.70 L382.26,278.20 L382.45,278.90 L382.66,279.84 L382.87,281.03 L383.10,282.51 L383.34,284.30 L383.59,286.44 L383.85,288.93 L384.11,291.81 L384.39,295.08 L384.67,298.76 L384.95,302.85 L385.25,307.36 L385.55,312.28 L385.85,317.61 L386.16,323.33 L386.48,329.43 L386.80,335.88 L387.13,342.66 L387.46,349.73 L387.80,357.05 L388.15,364.59 L388.50,372.29 L388.86,380.11 L389.22,388.00" stroke="#ff6450"/>
<path d="M373.51,388.00 L373.92,382.09 L374.33,376.33 L374.72,370.72 L375.11,365.31 L375.49,360.11 L375.86,355.15 L376.23,350.44 L376.58,346.00 L376.93,341.83 L377.26,337.96 L377.59,334.37 L377.90,331.08 L378.21,328.09 L378.50,325.38 L378.79,322.96 L379.06,320.81 L379.33,318.94 L379.58,317.31 L379.82,315.92 L380.05,314.76 L380.26,313.80 L380.46,313.03 L380.65,312.43 L380.83,311.97 L380.99,311.65 L381.14,311.43 L381.26,311.30 L381.37,311.23 L381.45,311.20 L381.50,311.20 L381.55,311.20 L381.63,311.23 L381.73,311.30 L381.86,311.43 L382.00,311.65 L382.16,311.97 L382.33,312.43 L382.51,313.03 L382.70,313.80 L382.90,314.76 L383.11,315.92 L383.33,317.31 L383.56,318.94 L383.79,320.81 L384.04,322.96 L384.29,325.38 L384.54,328.09 L384.80,331.08 L385.07,334.37 L385.34,337.96 L385.62,341.83 L385.90,346.00 L386.19,350.44 L386.49,355.15 L386.78,360.11 L387.09,365.31 L387.40,370.72 L387.71,376.33 L388.03,382.09 L388.35,388.00" stroke="#7a0808"/>
<path d="M543.49,388.00 L543.95,381.52 L544.41,374.30 L544.85,366.36 L545.27,357.76 L545.69,348.57 L546.09,338.89 L546.49,328.83 L546.87,318.51 L547.24,308.07 L547.60,297.65 L547.95,287.39 L548.29,277.42 L548.63,267.86 L548.95,258.83 L549.27,250.42 L549.58,242.69 L549.88,235.71 L550.17,229.51 L550.46,224.10 L550.73,219.47 L550.99,215.59 L551.25,212.44 L551.49,209.95 L551.71,208.06 L551.92,206.69 L552.11,205.77 L552.28,205.21 L552.43,204.92 L552.54,204.82 L552.60,204.80 L552.66,204.82 L552.78,204.92 L552.92,205.21 L553.10,205.77 L553.30,206.69 L553.52,208.06 L553.77,209.95 L554.04,212.44 L554.32,215.59 L554.63,219.47 L554.96,224.10 L555.30,229.51 L555.66,235.71 L556.04,242.69 L556.44,250.42 L556.85,258.83 L557.27,267.86 L557.71,277.42 L558.17,287.39 L558.63,297.65 L559.11,308.07 L559.59,318.51 L560.09,328.83 L560.60,338.89 L561.11,348.57 L561.63,357.76 L562.15,366.36 L562.68,374.30 L563.21,381.52 L563.75,388.00" stroke="#8a8a8a"/>
<path d="M543.55,388.00 L544.01,381.69 L544.46,374.67 L544.90,367.00 L545.32,358.71 L545.74,349.88 L546.14,340.60 L546.53,330.99 L546.91,321.16 L547.27,311.24 L547.63,301.36 L547.98,291.64 L548.32,282.22 L548.66,273.21 L548.98,264.70 L549.30,256.78 L549.60,249.52 L549.90,242.96 L550.19,237.14 L550.48,232.07 L550.75,227.73 L551.01,224.10 L551.26,221.15 L551.50,218.82 L551.72,217.05 L551.93,215.77 L552.12,214.91 L552.29,214.38 L552.43,214.11 L552.54,214.01 L552.60,214.00 L552.66,214.01 L552.77,214.11 L552.92,214.38 L553.09,214.91 L553.29,215.77 L553.51,217.05 L553.76,218.82 L554.02,221.15 L554.30,224.10 L554.60,227.73 L554.92,232.07 L555.26,237.14 L555.62,242.96 L555.99,249.52 L556.38,256.78 L556.78,264.70 L557.20,273.21 L557.63,282.22 L558.08,291.64 L558.54,301.36 L559.01,311.24 L559.49,321.16 L559.97,330.99 L560.47,340.60 L560.97,349.88 L561.48,358.71 L562.00,367.00 L562.52,374.67 L563.05,381.69 L563.58,388.00" stroke="#ffb0b0"/>
<path d="M544.28,388.00 L544.69,383.08 L545.10,377.80 L545.49,372.22 L545.88,366.37 L546.26,360.32 L546.63,354.13 L546.99,347.87 L547.34,341.61 L547.68,335.42 L548.02,329.36 L548.34,323.52 L548.66,317.93 L548.98,312.66 L549.28,307.75 L549.58,303.22 L549.86,299.11 L550.14,295.44 L550.41,292.19 L550.67,289.38 L550.92,286.99 L551.16,285.00 L551.39,283.39 L551.61,282.12 L551.81,281.15 L552.00,280.46 L552.17,279.99 L552.32,279.71 L552.45,279.56 L552.55,279.51 L552.60,279.50 L552.65,279.51 L552.75,279.56 L552.88,279.71 L553.04,279.99 L553.21,280.46 L553.41,281.15 L553.62,282.12 L553.85,283.39 L554.10,285.00 L554.36,286.99 L554.64,289.38 L554.93,292.19 L555.24,295.44 L555.56,299.11 L555.89,303.22 L556.23,307.75 L556.59,312.66 L556.96,317.93 L557.34,323.52 L557.74,329.36 L558.14,335.42 L558.55,341.61 L558.97,347.87 L559.40,354.13 L559.84,360.32 L560.29,366.37 L560.74,372.22 L561.20,377.80 L561.66,383.08 L562.13,388.00" stroke="#d82a26"/>
<path d="M543.84,388.00 L544.28,382.31 L544.71,376.10 L545.13,369.40 L545.54,362.26 L545.94,354.75 L546.33,346.96 L546.71,338.98 L547.08,330.89 L547.43,322.80 L547.78,314.82 L548.13,307.02 L548.46,299.52 L548.78,292.38 L549.10,285.68 L549.41,279.48 L549.71,273.81 L550.00,268.72 L550.28,264.21 L550.56,260.28 L550.82,256.94 L551.07,254.15 L551.32,251.88 L551.54,250.09 L551.76,248.73 L551.96,247.75 L552.14,247.09 L552.30,246.69 L552.44,246.49 L552.54,246.41 L552.60,246.40 L552.66,246.41 L552.76,246.49 L552.90,246.69 L553.07,247.09 L553.26,247.75 L553.47,248.73 L553.70,250.09 L553.94,251.88 L554.21,254.15 L554.50,256.94 L554.80,260.28 L555.11,264.21 L555.45,268.72 L555.80,273.81 L556.16,279.48 L556.54,285.68 L556.93,292.38 L557.33,299.52 L557.75,307.02 L558.18,314.82 L558.61,322.80 L559.06,330.89 L559.52,338.98 L559.99,346.96 L560.46,354.75 L560.94,362.26 L561.43,369.40 L561.93,376.10 L562.43,382.31 L562.93,388.00" stroke="#ff6450"/>
<path d="M545.18,388.00 L545.54,384.31 L545.90,380.48 L546.25,376.55 L546.60,372.55 L546.93,368.52 L547.26,364.50 L547.59,360.52 L547.90,356.62 L548.21,352.84 L548.51,349.21 L548.81,345.75 L549.10,342.49 L549.38,339.46 L549.65,336.66 L549.92,334.11 L550.17,331.82 L550.42,329.78 L550.67,327.99 L550.90,326.45 L551.12,325.15 L551.34,324.07 L551.54,323.19 L551.73,322.51 L551.91,321.99 L552.07,321.62 L552.22,321.36 L552.35,321.21 L552.47,321.13 L552.55,321.10 L552.60,321.10 L552.65,321.10 L552.73,321.13 L552.85,321.21 L552.98,321.36 L553.13,321.62 L553.30,321.99 L553.49,322.51 L553.69,323.19 L553.90,324.07 L554.12,325.15 L554.36,326.45 L554.61,327.99 L554.87,329.78 L555.15,331.82 L555.43,334.11 L555.72,336.66 L556.03,339.46 L556.34,342.49 L556.67,345.75 L557.00,349.21 L557.34,352.84 L557.69,356.62 L558.05,360.52 L558.42,364.50 L558.79,368.52 L559.18,372.55 L559.56,376.55 L559.96,380.48 L560.36,384.31 L560.77,388.00" stroke="#7a0808"/>
</g>
<text x="355" y="208">Si−<tspan font-weight="bold">(</tspan>CH<tspan font-size="18" dy="6">3</tspan><tspan dy="-6" font-weight="bold">)</tspan><tspan font-size="18" dy="6">2</tspan></text>
<text x="484.6" y="184.8">Si−O−Si</text>
<!-- annotations -->
<text x="211.7" y="309.9">Si−CH<tspan font-size="18" dy="6">3</tspan></text>
<text x="497.6" y="422.9">(C−H) in CH<tspan font-size="18" dy="6">3</tspan></text>
<text x="628.5" y="397.2">O−H</text>
<g stroke="#000" stroke-width="1.6">
<line x1="237" y1="317" x2="237" y2="336"/>
<line x1="418.5" y1="215.7" x2="402" y2="242"/>
<line x1="529.6" y1="192.5" x2="540.5" y2="234"/>
<line x1="580.6" y1="429.8" x2="579.4" y2="449"/>
<line x1="669.9" y1="407.3" x2="671.6" y2="428"/>
</g>
<g fill="#000">
<path d="M237,347.6 L233.7,334 L240.5,334 Z"/>
<path d="M397.1,250.8 L400.5,239.2 L406.2,242.4 Z"/>
<path d="M543.2,244.3 L536.8,233 L544.5,231 Z"/>
<path d="M578.5,460.4 L576,448.1 L582.8,448.1 Z"/>
<path d="M672.4,439.4 L667.9,427.2 L674.7,427.2 Z"/>
</g>
</svg>
</body></html>
